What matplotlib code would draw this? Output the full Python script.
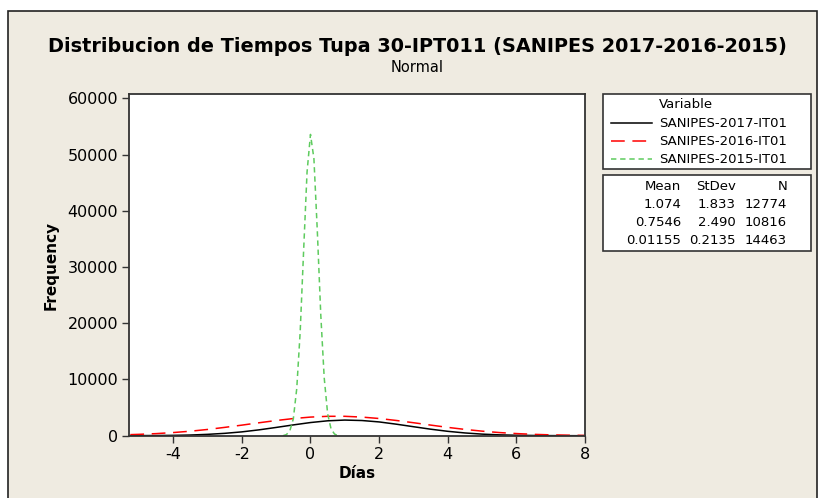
import matplotlib
matplotlib.use('Agg')
import matplotlib.pyplot as plt
from matplotlib.patches import Rectangle
from matplotlib.lines import Line2D

plt.rcParams['axes.unicode_minus'] = False

# fitted normal curves
dias_2017 = [-5.25, -4.5, -4, -3.5, -3, -2.5, -2, -1.5, -1, -0.5, 0, 0.5, 1, 1.5,
             2, 2.5, 3, 3.5, 4, 4.5, 5, 5.5, 6, 6.5, 7, 7.5, 8]
freq_2017 = [10, 30, 60, 120, 240, 420, 680, 1040, 1470, 1920, 2340, 2650, 2780, 2700,
             2450, 2050, 1600, 1160, 780, 490, 280, 150, 80, 40, 15, 5, 0]

dias_2016 = [-5.25, -5, -4.5, -4, -3.5, -3, -2.5, -2, -1.5, -1, -0.5, 0, 0.5, 1,
             1.5, 2, 2.5, 3, 3.5, 4, 4.5, 5, 5.5, 6, 6.5, 7, 7.5, 8]
freq_2016 = [190, 240, 370, 560, 800, 1110, 1480, 1880, 2300, 2700, 3050, 3310, 3450, 3450,
             3310, 3060, 2710, 2310, 1890, 1480, 1120, 810, 560, 380, 240, 150, 90, 50]

dias_2015 = [-0.8, -0.7, -0.6, -0.5, -0.4, -0.3, -0.2, -0.1, 0.0, 0.1, 0.2, 0.3,
             0.4, 0.5, 0.6, 0.7, 0.8]
freq_2015 = [0, 200, 900, 3000, 8400, 18500, 32900, 46900, 53600, 49300, 36300, 21500,
             10300, 3900, 1200, 300, 0]

variables = ['SANIPES-2017-IT01', 'SANIPES-2016-IT01', 'SANIPES-2015-IT01']
means = ['1.074', '0.7546', '0.01155']
stdevs = ['1.833', '2.490', '0.2135']
ns = ['12774', '10816', '14463']

W, H = 821, 498
bg = '#efebe1'
fig = plt.figure(figsize=(W / 100, H / 100), dpi=100)
fig.patch.set_facecolor('white')

def fx(px):
    return px / W

def fy(py):
    return 1 - py / H

# beige panel with border
fig.patches.append(Rectangle((fx(8), fy(520)), fx(817) - fx(8), fy(11) - fy(520),
                             transform=fig.transFigure, facecolor=bg,
                             edgecolor='#222222', linewidth=1.2, zorder=-10))

ax = fig.add_axes([fx(129.3), fy(435.7), fx(585) - fx(129.3), fy(94.5) - fy(435.7)])
ax.set_facecolor('white')
ax.set_zorder(1)

ax.plot(dias_2017, freq_2017, color='black', linewidth=1.1, label=variables[0])
ax.plot(dias_2016, freq_2016, color='#ff0000', linewidth=1.1, dashes=(9, 5),
        label=variables[1])
ax.plot(dias_2015, freq_2015, color='#5ecb5e', linewidth=1.1, dashes=(3.5, 2.5),
        label=variables[2])

ax.set_xlim(-5.28, 8)
ax.set_ylim(0, 60700)
ax.set_xticks([-4, -2, 0, 2, 4, 6, 8])
ax.set_yticks([0, 10000, 20000, 30000, 40000, 50000, 60000])
ax.tick_params(direction='out', length=5, width=1, labelsize=11.5, color='#333333',
               pad=3)
for s in ax.spines.values():
    s.set_color('#333333')
    s.set_linewidth(1.3)

ax.set_xlabel('Días', fontsize=11, fontweight='bold', labelpad=3)
ax.set_ylabel('Frequency', fontsize=11, fontweight='bold', labelpad=6)

fig.text(fx(417.5), fy(47), 'Distribucion de Tiempos Tupa 30-IPT011 (SANIPES 2017-2016-2015)',
         ha='center', va='center', fontsize=13.9, fontweight='bold')
fig.text(fx(417.5), fy(67), 'Normal', ha='center', va='center', fontsize=10.5)

# legend boxes
for top, bot in [(94, 169), (175, 251)]:
    fig.patches.append(Rectangle((fx(603), fy(bot)), fx(811) - fx(603), fy(top) - fy(bot),
                                 transform=fig.transFigure, facecolor='white',
                                 edgecolor='#333333', linewidth=1.2, zorder=1))

lfs = 9.5
fig.text(fx(659), fy(105), 'Variable', ha='left', va='center', fontsize=lfs)
line_styles = [dict(color='black'), dict(color='#ff0000', dashes=(9, 5)),
               dict(color='#5ecb5e', dashes=(3.5, 2.5))]
for i, (name, st) in enumerate(zip(variables, line_styles)):
    yy = fy(123.3 + i * 18)
    fig.lines.append(Line2D([fx(611), fx(652)], [yy, yy], transform=fig.transFigure,
                            linewidth=1.1, **st))
    fig.text(fx(659), yy, name, ha='left', va='center', fontsize=lfs)

fig.text(fx(681), fy(187), 'Mean', ha='right', va='center', fontsize=lfs)
fig.text(fx(736), fy(187), 'StDev', ha='right', va='center', fontsize=lfs)
fig.text(fx(787), fy(187), 'N', ha='right', va='center', fontsize=lfs)
for i in range(3):
    yy = fy(204.5 + i * 18)
    fig.text(fx(681), yy, means[i], ha='right', va='center', fontsize=lfs)
    fig.text(fx(736), yy, stdevs[i], ha='right', va='center', fontsize=lfs)
    fig.text(fx(787), yy, ns[i], ha='right', va='center', fontsize=lfs)

fig.savefig('out.png', dpi=100, facecolor=fig.get_facecolor())
